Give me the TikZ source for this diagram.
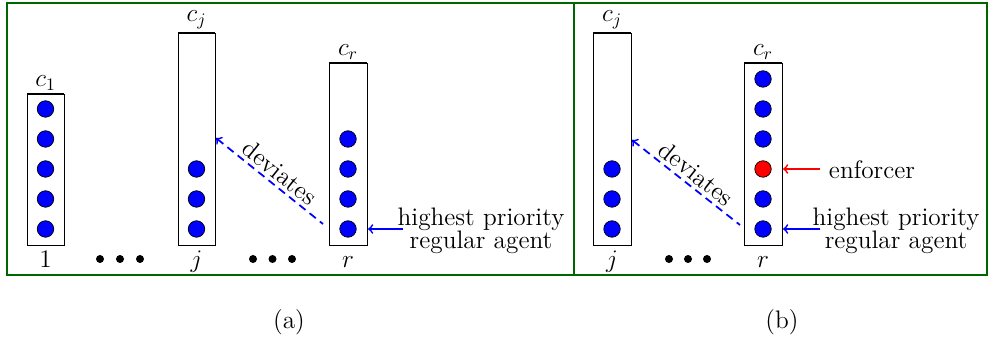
\RequirePackage{fix-cm}
\documentclass[tikz,border=0pt]{standalone}
\usepackage{amsmath,amssymb}
\usepackage{tikz}
\usepackage{xcolor}

\begin{document}
\begin{tikzpicture}[font=\fontsize{14.4}{13.1}\selectfont,line cap=butt,
  agent/.style={circle,draw=black,fill=blue,inner sep=0pt,minimum size=0.33cm},
  enfagent/.style={agent,fill=red},
  panelframe/.style={green!40!black,line width=1.5pt},
  capline/.style={line width=1.3pt},
  devline/.style={blue,line width=1pt,dash pattern=on 4.5pt off 3pt,->},
  ptrline/.style={line width=1pt,->}]
\useasboundingbox (0,0) rectangle (19.78,6.82);
\draw[panelframe] (0.14,1.32) rectangle (19.74,6.76);
\draw[panelframe] (11.48,1.32) -- (11.48,6.76);
% panel (a): column 1
\draw (0.54,1.92) rectangle (1.28,4.94);
\draw[capline] (0.54,4.94) -- (1.28,4.94);
\node[above,inner sep=2pt] (ca1) at (0.91,4.94) {$c_1$};
\node[anchor=base] (na1) at (0.91,1.46) {$1$};
\node[agent] (a1e) at (0.91,2.24) {};
\node[agent] (a1d) at (0.91,2.84) {};
\node[agent] (a1c) at (0.91,3.44) {};
\node[agent] (a1b) at (0.91,4.04) {};
\node[agent] (a1a) at (0.91,4.64) {};
\fill (2.0,1.64) circle (0.08);
\fill (2.4,1.64) circle (0.08);
\fill (2.8,1.64) circle (0.08);
% panel (a): column j
\draw (3.56,1.92) rectangle (4.30,6.16);
\draw[capline] (3.56,6.16) -- (4.30,6.16);
\node[above,inner sep=2pt] (caj) at (3.93,6.16) {$c_j$};
\node[anchor=base] (naj) at (3.93,1.46) {$j$};
\node[agent] (aje) at (3.93,2.24) {};
\node[agent] (ajd) at (3.93,2.84) {};
\node[agent] (ajc) at (3.93,3.44) {};
\fill (5.06,1.64) circle (0.08);
\fill (5.45,1.64) circle (0.08);
\fill (5.84,1.64) circle (0.08);
% panel (a): column r
\draw (6.58,1.92) rectangle (7.34,5.56);
\draw[capline] (6.58,5.56) -- (7.34,5.56);
\node[above,inner sep=2pt] (car) at (6.96,5.56) {$c_r$};
\node[anchor=base] (nar) at (6.96,1.46) {$r$};
\node[agent] (are) at (6.96,2.24) {};
\node[agent] (ard) at (6.96,2.84) {};
\node[agent] (arc) at (6.96,3.44) {};
\node[agent] (arb) at (6.96,4.04) {};
\coordinate (devja) at (4.32,4.06);
\coordinate (devra) at (6.46,2.34);
\draw[devline,<-] (devja) -- node[above,sloped,black,pos=0.52,inner sep=2pt] (deva) {deviates} (devra);
\node[align=center] (hpa) at (9.62,2.21) {highest priority\\regular agent};
\coordinate (hpsa) at (8.06,2.24);
\coordinate (hpea) at (7.36,2.24);
\draw[ptrline,blue] (hpsa) -- (hpea);
% panel (b): column j
\draw (11.86,1.92) rectangle (12.62,6.16);
\draw[capline] (11.86,6.16) -- (12.62,6.16);
\node[above,inner sep=2pt] (cbj) at (12.24,6.16) {$c_j$};
\node[anchor=base] (nbj) at (12.24,1.46) {$j$};
\node[agent] (bje) at (12.24,2.24) {};
\node[agent] (bjd) at (12.24,2.84) {};
\node[agent] (bjc) at (12.24,3.44) {};
\fill (13.38,1.64) circle (0.08);
\fill (13.76,1.64) circle (0.08);
\fill (14.14,1.64) circle (0.08);
% panel (b): column r
\draw (14.88,1.92) rectangle (15.64,5.56);
\draw[capline] (14.88,5.56) -- (15.64,5.56);
\node[above,inner sep=2pt] (cbr) at (15.26,5.56) {$c_r$};
\node[anchor=base] (nbr) at (15.26,1.46) {$r$};
\node[agent] (bre) at (15.26,2.24) {};
\node[agent] (brd) at (15.26,2.84) {};
\node[enfagent] (brc) at (15.26,3.44) {};
\node[agent] (brb) at (15.26,4.04) {};
\node[agent] (bra) at (15.26,4.64) {};
\node[agent] (brz) at (15.26,5.24) {};
\coordinate (devjb) at (12.64,4.02);
\coordinate (devrb) at (14.80,2.32);
\draw[devline,<-] (devjb) -- node[above,sloped,black,pos=0.52,inner sep=2pt] (devb) {deviates} (devrb);
\node (enf) at (17.44,3.42) {enforcer};
\coordinate (enfs) at (16.40,3.44);
\coordinate (enfe) at (15.66,3.44);
\draw[ptrline,red] (enfs) -- (enfe);
\node[align=center] (hpb) at (17.92,2.21) {highest priority\\regular agent};
\coordinate (hpsb) at (16.40,2.24);
\coordinate (hpeb) at (15.66,2.24);
\draw[ptrline,blue] (hpsb) -- (hpeb);
% captions
\node (capa) at (5.78,0.38) {(a)};
\node (capb) at (15.64,0.38) {(b)};
\end{tikzpicture}
\end{document}
